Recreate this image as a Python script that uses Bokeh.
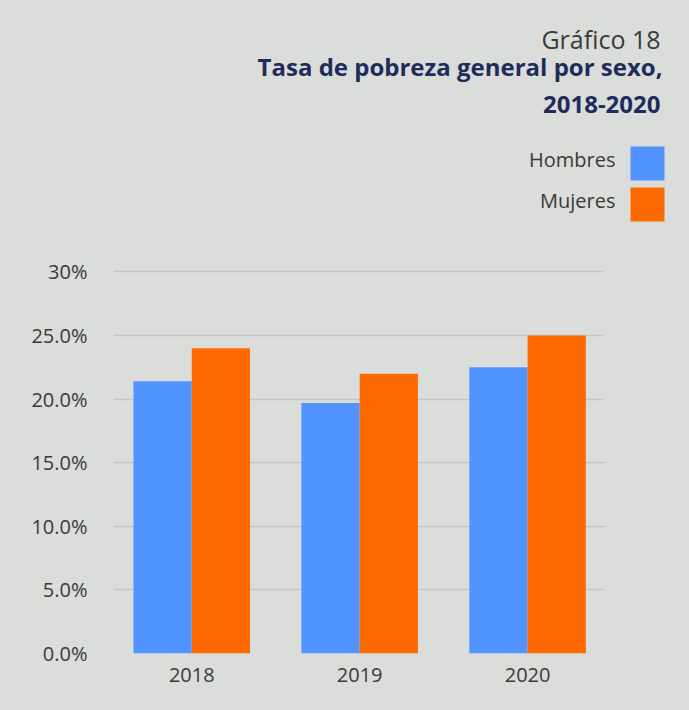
from bokeh.plotting import figure
from bokeh.layouts import column
from bokeh.models import Range1d, FixedTicker, Label, BoxAnnotation
from bokeh.embed import file_html
from bokeh.resources import INLINE

# ---- data ----
years = [2018, 2019, 2020]
year_labels = ["2018", "2019", "2020"]
hombres = [21.4, 19.7, 22.5]
mujeres = [24.0, 22.0, 25.0]
y_ticks = [0, 5, 10, 15, 20, 25, 30]
y_tick_labels = ["0.0%", "5.0%", "10.0%", "15.0%", "20.0%", "25.0%", "30%"]
series_names = ["Hombres", "Mujeres"]
title_small = "Gráfico 18"
title_big_1 = "Tasa de pobreza general por sexo,"
title_big_2 = "2018-2020"

BG = "#dbddda"
BLUE = "#5294ff"
ORANGE = "#ff6a00"
NAVY = "#1f2b5b"
TXT = "#3a3a3a"
FONT = "Open Sans"

W, H = 673, 694
HEAD = 240  # header panel height (title + legend)

# ---------- header (title + legend) ----------
head = figure(width=W, height=HEAD, output_backend="svg", toolbar_location=None,
              x_range=Range1d(0, W), y_range=Range1d(HEAD, 0),
              x_axis_type=None, y_axis_type=None, min_border=0)
head.frame_align = False
head.background_fill_color = BG
head.border_fill_color = BG
head.outline_line_color = None
head.xgrid.grid_line_color = None
head.ygrid.grid_line_color = None


def label(text, x, y, size, color, style="normal"):
    head.add_layout(Label(x=x, y=y, text=text, text_align="right",
                          text_baseline="alphabetic", text_font=FONT,
                          text_font_size=size, text_color=color,
                          text_font_style=style))


label(title_small, 660, 38, "25px", TXT)
label(title_big_1, 662, 66, "24px", NAVY, "bold")
label(title_big_2, 660, 104, "24px", NAVY, "bold")

for i, (name, col) in enumerate(zip(series_names, [BLUE, ORANGE])):
    top = 146 + i * 41
    label(name, 615, top + 13, "20px", TXT)
    head.add_layout(BoxAnnotation(left=630, right=664, top=top, bottom=top + 34,
                                  fill_color=col, fill_alpha=1, line_color=None))

# ---------- chart ----------
CH = H - HEAD
MB = 41
frame_h = CH - MB
px_per_unit = 12.72

p = figure(width=W, height=CH, output_backend="svg", toolbar_location=None,
           x_range=Range1d(2017.534, 2020.458),
           y_range=Range1d(0, frame_h / px_per_unit),
           min_border_left=113, min_border_right=W - 604,
           min_border_bottom=MB, min_border_top=0)
p.frame_align = False
p.background_fill_color = BG
p.border_fill_color = BG
p.outline_line_color = None

bw = 0.347
p.vbar(x=[y - bw / 2 for y in years], top=hombres, width=bw, color=BLUE, line_color=None)
p.vbar(x=[y + bw / 2 for y in years], top=mujeres, width=bw, color=ORANGE, line_color=None)

p.xaxis.ticker = FixedTicker(ticks=years)
p.xaxis.major_label_overrides = {y: l for y, l in zip(years, year_labels)}
p.yaxis.ticker = FixedTicker(ticks=y_ticks)
p.yaxis.major_label_overrides = {t: l for t, l in zip(y_ticks, y_tick_labels)}
for ax in (p.xaxis, p.yaxis):
    ax.axis_line_color = None
    ax.major_tick_line_color = None
    ax.minor_tick_line_color = None
    ax.major_label_text_font = FONT
    ax.major_label_text_font_size = "20px"
    ax.major_label_text_color = TXT
p.xaxis.major_label_standoff = 8
p.yaxis.major_label_standoff = 20
p.xgrid.grid_line_color = None
p.ygrid.grid_line_color = "#c4c6c3"
p.ygrid.grid_line_width = 1.5

layout = column(head, p, spacing=0)
html = file_html(layout, INLINE)
html = html.replace("</head>", "<style>html, body { background: %s; }</style></head>" % BG, 1)
open("out.html", "w").write(html)
